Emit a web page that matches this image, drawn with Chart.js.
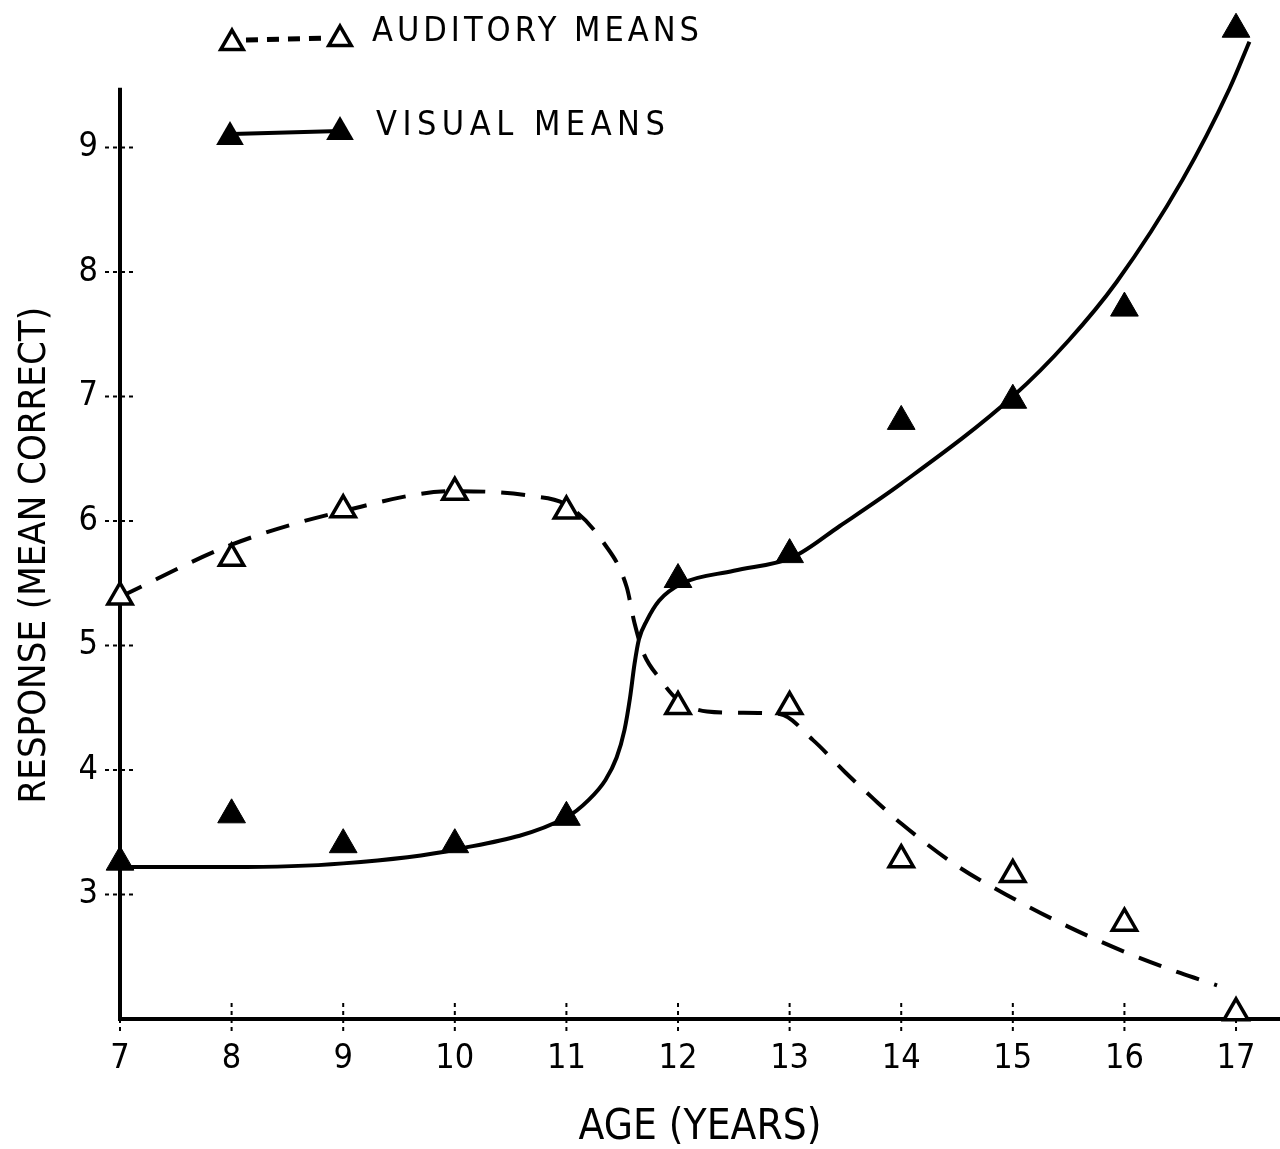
<!DOCTYPE html>
<html>
<head>
<meta charset="utf-8">
<script src="https://cdn.jsdelivr.net/npm/chart.js@4/dist/chart.umd.min.js"></script>
<style>
  html, body { margin: 0; padding: 0; background: #fff; overflow: hidden; }
  #wrap { width: 1280px; height: 1149px; }
  canvas { display: block; }
</style>
</head>
<body>
<div id="wrap"><canvas id="grafico"></canvas></div>
<script>
// Datos
const ages = [7, 8, 9, 10, 11, 12, 13, 14, 15, 16, 17];
const auditoryMeans = [5.39, 5.70, 6.09, 6.23, 6.08, 4.51, 4.51, 3.28, 3.16, 2.77, 2.05];
const visualMeans = [3.26, 3.64, 3.40, 3.40, 3.62, 5.53, 5.73, 6.80, 6.97, 7.71, 9.95];

// Curvas ajustadas (trazadas a mano en el original)
const auditoryCurveX = [7, 8, 9, 10, 10.7, 11, 11.33, 11.54, 11.61, 11.69, 11.84, 11.99, 12.26, 12.56, 12.91, 13.21, 13.5, 13.75, 14, 14.5, 15, 15.5, 16, 16.5, 16.83];
const auditoryCurveY = [5.39, 5.81, 6.08, 6.24, 6.2, 6.13, 5.83, 5.47, 5.18, 4.94, 4.73, 4.57, 4.47, 4.46, 4.45, 4.24, 3.98, 3.77, 3.57, 3.23, 2.97, 2.74, 2.54, 2.37, 2.27];
const visualCurveX = [7, 8, 9, 10, 11, 11.2, 11.35, 11.45, 11.52, 11.57, 11.61, 11.65, 11.72, 11.83, 12.04, 12.5, 13.03, 13.45, 14, 15, 15.5, 15.93, 16.52, 16.94, 17.12];
const visualCurveY = [3.22, 3.22, 3.25, 3.36, 3.62, 3.76, 3.92, 4.1, 4.32, 4.58, 4.85, 5.05, 5.2, 5.36, 5.5, 5.6, 5.71, 5.96, 6.3, 7.0, 7.45, 7.92, 8.74, 9.47, 9.85];

const xTickLabels = ['7', '8', '9', '10', '11', '12', '13', '14', '15', '16', '17'];
const yTickValues = [3, 4, 5, 6, 7, 8, 9];

const FUENTE = '"DejaVu Sans Condensed", "Liberation Sans Narrow", "DejaVu Sans", sans-serif';

function pares(xs, ys) {
    return xs.map((x, i) => ({ x: x, y: ys[i] }));
}

function triangulo(ctx, x, y, r, relleno) {
    ctx.beginPath();
    ctx.moveTo(x, y - r);
    ctx.lineTo(x + r * Math.sin(2 * Math.PI / 3), y + r / 2);
    ctx.lineTo(x - r * Math.sin(2 * Math.PI / 3), y + r / 2);
    ctx.closePath();
    if (relleno) {
        ctx.fillStyle = '#000';
        ctx.fill();
    } else {
        ctx.fillStyle = '#fff';
        ctx.fill();
        ctx.lineWidth = 3.5;
        ctx.strokeStyle = '#000';
        ctx.stroke();
    }
}

// Ejes, marcas y leyenda dibujados a mano
const ejesPlugin = {
    id: 'ejesYLeyenda',
    beforeDatasetsDraw(chart) {
        const ctx = chart.ctx;
        const x = chart.scales.x;
        const y = chart.scales.y;
        const x0 = x.getPixelForValue(7);
        const y0 = y.getPixelForValue(2);
        ctx.save();
        ctx.strokeStyle = '#000';
        ctx.lineWidth = 4;
        ctx.beginPath();
        ctx.moveTo(x0, y.getPixelForValue(9.48));
        ctx.lineTo(x0, y0);
        ctx.lineTo(chart.chartArea.right, y0);
        ctx.stroke();

        ctx.lineWidth = 2;
        ctx.setLineDash([4, 4]);
        yTickValues.forEach(v => {
            const py = y.getPixelForValue(v);
            ctx.beginPath();
            ctx.moveTo(x0 - 15, py);
            ctx.lineTo(x0 + 16, py);
            ctx.stroke();
        });
        ages.forEach(v => {
            const px = x.getPixelForValue(v);
            ctx.beginPath();
            ctx.moveTo(px, y0 - 16);
            ctx.lineTo(px, y0 + 16);
            ctx.stroke();
        });
        ctx.restore();
    },
    afterDraw(chart) {
        const ctx = chart.ctx;
        ctx.save();
        // Auditory
        ctx.strokeStyle = '#000';
        ctx.lineWidth = 5;
        ctx.setLineDash([12, 9]);
        ctx.beginPath();
        ctx.moveTo(246, 40);
        ctx.lineTo(328, 38);
        ctx.stroke();
        ctx.setLineDash([]);
        triangulo(ctx, 232, 43, 13, false);
        triangulo(ctx, 340, 39, 13, false);
        // Visual
        ctx.lineWidth = 4;
        ctx.beginPath();
        ctx.moveTo(232, 134);
        ctx.lineTo(340, 131);
        ctx.stroke();
        triangulo(ctx, 230, 137, 16, true);
        triangulo(ctx, 340, 132, 16, true);

        ctx.fillStyle = '#000';
        ctx.font = '34px ' + FUENTE;
        ctx.textBaseline = 'middle';
        ctx.textAlign = 'left';
        ctx.letterSpacing = '4px';
        ctx.fillText('AUDITORY MEANS', 372, 32);
        ctx.letterSpacing = '5.5px';
        ctx.fillText('VISUAL MEANS', 376, 126);
        ctx.restore();
    }
};

const ctxGrafico = document.getElementById('grafico').getContext('2d');
new Chart(ctxGrafico, {
    type: 'scatter',
    data: {
        datasets: [
            {
                label: 'Auditory means',
                data: pares(ages, auditoryMeans),
                showLine: false,
                pointStyle: 'triangle',
                pointRadius: 14,
                pointBackgroundColor: '#fff',
                pointBorderColor: '#000',
                pointBorderWidth: 3.5,
                clip: false
            },
            {
                label: 'Visual means',
                data: pares(ages, visualMeans),
                showLine: false,
                pointStyle: 'triangle',
                pointRadius: 16,
                pointBackgroundColor: '#000',
                pointBorderColor: '#000',
                pointBorderWidth: 1,
                clip: false
            },
            {
                label: 'Auditory curve',
                data: pares(auditoryCurveX, auditoryCurveY),
                showLine: true,
                pointRadius: 0,
                borderColor: '#000',
                borderWidth: 4,
                borderDash: [24, 16],
                cubicInterpolationMode: 'monotone',
                clip: false
            },
            {
                label: 'Visual curve',
                data: pares(visualCurveX, visualCurveY),
                showLine: true,
                pointRadius: 0,
                borderColor: '#000',
                borderWidth: 4,
                cubicInterpolationMode: 'monotone',
                clip: false
            }
        ]
    },
    options: {
        responsive: true,
        maintainAspectRatio: false,
        animation: false,
        layout: {
            autoPadding: false,
            padding: { top: 23, right: 0, left: 0, bottom: 0 }
        },
        plugins: {
            legend: { display: false },
            tooltip: { enabled: false }
        },
        scales: {
            x: {
                type: 'linear',
                min: 7,
                max: 17.394,
                afterBuildTicks: scale => {
                    scale.ticks = ages.map(v => ({ value: v }));
                },
                afterFit: scale => {
                    scale.height = 130;
                    scale.paddingLeft = 0;
                    scale.paddingRight = 0;
                },
                grid: { display: false, drawTicks: false },
                border: { display: false },
                ticks: {
                    color: '#000',
                    padding: 20,
                    maxRotation: 0,
                    font: { family: FUENTE, size: 34 },
                    callback: (v, i) => xTickLabels[i]
                },
                title: {
                    display: true,
                    text: 'AGE (YEARS)',
                    color: '#000',
                    font: { family: FUENTE, size: 42, lineHeight: 1 },
                    padding: { top: 0, bottom: 0 }
                }
            },
            y: {
                type: 'linear',
                min: 2,
                max: 10,
                afterBuildTicks: scale => {
                    scale.ticks = yTickValues.map(v => ({ value: v }));
                },
                afterFit: scale => {
                    scale.width = 120;
                    scale.paddingTop = 0;
                    scale.paddingBottom = 0;
                },
                grid: { display: false, drawTicks: false },
                border: { display: false },
                ticks: {
                    color: '#000',
                    padding: 22,
                    font: { family: FUENTE, size: 34 }
                },
                title: {
                    display: true,
                    text: 'RESPONSE (MEAN CORRECT)\u2003\u2003',
                    color: '#000',
                    font: { family: FUENTE, size: 38, lineHeight: 1 },
                    padding: { top: 16, bottom: 0 }
                }
            }
        }
    },
    plugins: [ejesPlugin]
});
</script>
</body>
</html>
